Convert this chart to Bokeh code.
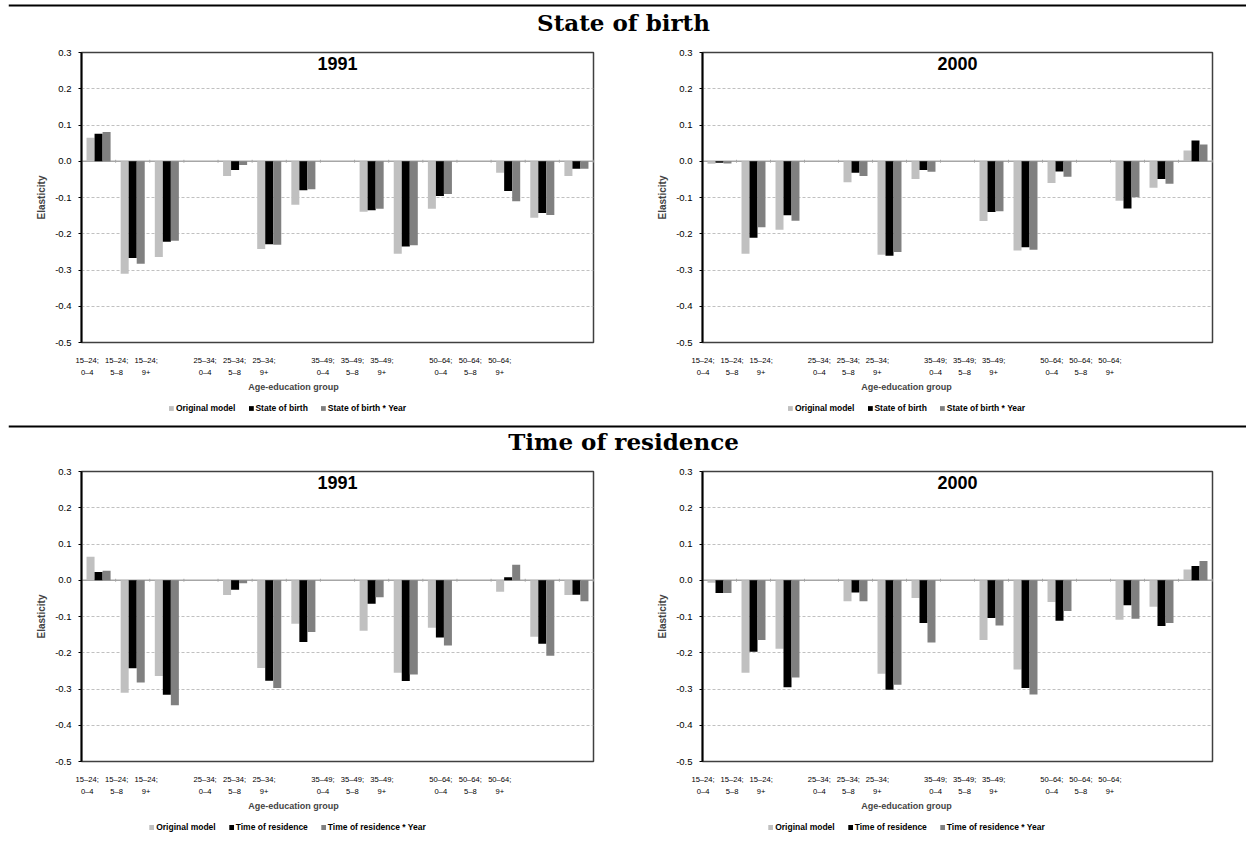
from bokeh.plotting import figure
from bokeh.models import (ColumnDataSource, Range1d, LinearAxis, FixedTicker, Legend,
                          LegendItem, Span, Label, PrintfTickFormatter)
from bokeh.layouts import column, row
from bokeh.transform import dodge
from bokeh.embed import file_html
from bokeh.resources import INLINE

# ---------------- data ----------------
categories = ["15\u201324;\n0\u20134", "15\u201324;\n5\u20138", "15\u201324;\n9+",
              "25\u201334;\n0\u20134", "25\u201334;\n5\u20138", "25\u201334;\n9+",
              "35\u201349;\n0\u20134", "35\u201349;\n5\u20138", "35\u201349;\n9+",
              "50\u201364;\n0\u20134", "50\u201364;\n5\u20138", "50\u201364;\n9+"]

y_ticks = [-0.5, -0.4, -0.3, -0.2, -0.1, 0.0, 0.1, 0.2, 0.3]

section_titles = ["State of birth", "Time of residence"]
panel_titles = ["1991", "2000"]
x_title = "Age-education group"
y_title = "Elasticity"

series_sob = ["Original model", "State of birth", "State of birth * Year"]
series_tor = ["Original model", "Time of residence", "Time of residence * Year"]

orig_1991 = [0.065, -0.310, -0.264, -0.041, -0.242, -0.120, -0.139, -0.255, -0.131, -0.032, -0.156, -0.041]
orig_2000 = [-0.007, -0.255, -0.189, -0.058, -0.258, -0.049, -0.165, -0.246, -0.060, -0.109, -0.073, 0.030]

sob_1991 = [0.076, -0.267, -0.222, -0.024, -0.229, -0.080, -0.135, -0.235, -0.096, -0.082, -0.143, -0.021]
sob_year_1991 = [0.081, -0.283, -0.219, -0.010, -0.230, -0.077, -0.131, -0.232, -0.090, -0.110, -0.148, -0.021]
sob_2000 = [-0.004, -0.211, -0.149, -0.032, -0.261, -0.024, -0.140, -0.237, -0.028, -0.130, -0.049, 0.057]
sob_year_2000 = [-0.006, -0.182, -0.164, -0.041, -0.250, -0.029, -0.138, -0.244, -0.043, -0.099, -0.062, 0.046]

tor_1991 = [0.023, -0.243, -0.316, -0.026, -0.277, -0.170, -0.065, -0.278, -0.158, 0.008, -0.175, -0.040]
tor_year_1991 = [0.026, -0.282, -0.345, -0.008, -0.297, -0.143, -0.047, -0.260, -0.180, 0.043, -0.208, -0.058]
tor_2000 = [-0.035, -0.197, -0.295, -0.034, -0.302, -0.118, -0.104, -0.297, -0.112, -0.069, -0.126, 0.039]
tor_year_2000 = [-0.035, -0.165, -0.268, -0.058, -0.288, -0.172, -0.125, -0.315, -0.085, -0.106, -0.118, 0.053]

# ---------------- style ----------------
FONT = "Liberation Sans"
COLORS = ["#C0C0C0", "#000000", "#808080"]
BAR_W = 0.235
OFFSETS = [-BAR_W, 0.0, BAR_W]
# each age group takes 3 slots followed by an empty slot
SLOTS = [4 * (k // 3) + k % 3 for k in range(len(categories))]
N_SLOTS = 15


def no_align(f):
    try:
        f.frame_align = False
    except AttributeError:
        pass
    return f


def add_bars(p, vals, visible=True):
    src = ColumnDataSource(dict(x=SLOTS, a=vals[0], b=vals[1], c=vals[2]))
    rs = []
    for off, col, colr in zip(OFFSETS, ["a", "b", "c"], COLORS):
        r = p.vbar(x=dodge("x", off), top=col, bottom=0, width=BAR_W, source=src,
                   fill_color=colr, line_color=None)
        r.visible = visible
        rs.append(r)
    return rs


def panel(title, vals, width, height, left, right, top, bottom):
    p = figure(width=width, height=height,
               x_range=Range1d(-0.5, N_SLOTS - 0.5), y_range=Range1d(y_ticks[0], y_ticks[-1]),
               output_backend="svg", toolbar_location=None,
               x_axis_location=None, y_axis_location="left",
               min_border_left=left, min_border_right=right,
               min_border_top=top, min_border_bottom=bottom)
    no_align(p)
    p.background_fill_color = "white"
    p.border_fill_color = "white"
    p.outline_line_color = "#404040"
    p.outline_line_width = 1.5

    ya = p.yaxis[0]
    ya.ticker = FixedTicker(ticks=y_ticks)
    ya.formatter = PrintfTickFormatter(format="%.1f")
    ya.axis_line_color = "black"
    ya.axis_line_width = 2
    ya.major_tick_out = 3
    ya.major_tick_in = 0
    ya.minor_tick_line_color = None
    ya.major_label_standoff = 7
    ya.major_label_text_font = FONT
    ya.major_label_text_font_size = "9.5px"
    ya.major_label_text_color = "black"
    ya.axis_label = y_title
    ya.axis_label_text_font = FONT
    ya.axis_label_text_font_style = "bold"
    ya.axis_label_text_font_size = "10px"
    ya.axis_label_standoff = 5

    p.xgrid.visible = False
    p.ygrid.ticker = FixedTicker(ticks=y_ticks)
    p.ygrid.grid_line_color = "#C0C0C0"
    p.ygrid.grid_line_dash = "3 2"
    p.ygrid.grid_line_width = 1

    # zero line and category tick marks
    p.add_layout(Span(location=0, dimension="width", line_color="#A6A6A6",
                      line_width=1.5, level="underlay"))
    bounds = [k - 0.5 for k in range(N_SLOTS + 1)]
    p.segment(x0=bounds, x1=bounds, y0=[-0.004] * len(bounds), y1=[0.004] * len(bounds),
              line_color="#A6A6A6", line_width=1)

    add_bars(p, vals)

    p.add_layout(Label(x=(N_SLOTS - 1) / 2, y=y_ticks[-1], text=title, text_align="center",
                       text_baseline="top", y_offset=-4, text_font=FONT,
                       text_font_style="bold", text_font_size="18px", text_color="black"))
    return p


def label_axis(lines, standoff, title=None):
    xa = LinearAxis()
    xa.ticker = FixedTicker(ticks=SLOTS)
    xa.major_label_overrides = {s: t for s, t in zip(SLOTS, lines)}
    xa.major_tick_out = 0
    xa.major_tick_in = 0
    xa.minor_tick_line_color = None
    xa.axis_line_color = None
    xa.major_label_standoff = standoff
    xa.major_label_text_font = FONT
    xa.major_label_text_font_size = "7.6px"
    xa.major_label_text_color = "black"
    if title:
        xa.axis_label = title
        xa.axis_label_text_font = FONT
        xa.axis_label_text_font_style = "bold"
        xa.axis_label_text_font_size = "9px"
        xa.axis_label_standoff = 2
    return xa


def labels_strip(width, height, left, right):
    """Two-line category labels and axis title under a panel."""
    f = figure(width=width, height=height,
               x_range=Range1d(-0.5, N_SLOTS - 0.5), y_range=Range1d(0, 1),
               output_backend="svg", toolbar_location=None,
               x_axis_location=None, y_axis_location=None,
               min_border_left=left, min_border_right=right,
               min_border_top=0, min_border_bottom=height - 1)
    no_align(f)
    f.outline_line_color = None
    f.grid.visible = False
    first = [c.split("\n")[0] for c in categories]
    second = [c.split("\n")[1] for c in categories]
    f.add_layout(label_axis(first, 4), "below")
    f.add_layout(label_axis(second, 0, x_title), "below")
    return f


def legend_strip(names, vals, width, height, left, right):
    f = figure(width=width, height=height,
               x_range=Range1d(-0.5, N_SLOTS - 0.5), y_range=Range1d(0, 1),
               output_backend="svg", toolbar_location=None,
               x_axis_location=None, y_axis_location=None,
               min_border_left=left, min_border_right=right,
               min_border_top=0, min_border_bottom=0)
    no_align(f)
    f.outline_line_color = None
    f.grid.visible = False
    # the same series, hidden here, only feed the legend swatches
    rs = add_bars(f, vals, visible=False)
    leg = Legend(items=[LegendItem(label=n, renderers=[r]) for n, r in zip(names, rs)],
                 orientation="horizontal", location="center")
    leg.label_text_font = FONT
    leg.label_text_font_style = "bold"
    leg.label_text_font_size = "8.5px"
    leg.label_text_color = "black"
    leg.inactive_fill_alpha = 0
    leg.glyph_width = 6
    leg.glyph_height = 6
    leg.label_height = 9
    leg.label_standoff = 2
    leg.spacing = 12
    leg.padding = 4
    leg.margin = 0
    leg.border_line_color = None
    leg.background_fill_alpha = 0
    f.add_layout(leg, "center")
    return f


def header(text, w, h, line_from_top, text_top):
    f = figure(width=w, height=h, x_range=Range1d(0, w - 8), y_range=Range1d(0, h),
               output_backend="svg", toolbar_location=None,
               x_axis_location=None, y_axis_location=None,
               min_border=0, min_border_left=8)
    no_align(f)
    f.outline_line_color = None
    f.grid.visible = False
    f.add_layout(Span(location=h - line_from_top, dimension="width",
                      line_color="black", line_width=2))
    f.add_layout(Label(x=w / 2 - 8, y=h - text_top, text=text, text_align="center",
                       text_baseline="top", text_font="DejaVu Serif",
                       text_font_style="bold", text_font_size="23px", text_color="black"))
    return f


W = 1246
WL, WR = 620, 626
LB = (72, 106)   # label strip borders, left column
RB = (68, 122)   # label strip borders, right column
LG = (66, 112)   # legend strip borders, left column

v1 = [orig_1991, sob_1991, sob_year_1991]
v2 = [orig_2000, sob_2000, sob_year_2000]
v3 = [orig_1991, tor_1991, tor_year_1991]
v4 = [orig_2000, tor_2000, tor_year_2000]

h1 = header(section_titles[0], W, 38, 5, 8)
p1 = panel(panel_titles[0], v1, WL, 312, 81, 27, 14, 8)
p2 = panel(panel_titles[1], v2, WR, 312, 82, 34, 14, 8)
a1 = labels_strip(WL, 46, *LB)
a2 = labels_strip(WR, 46, *RB)
g1 = legend_strip(series_sob, v1, WL, 24, *LG)
g2 = legend_strip(series_sob, v2, WR, 24, *RB)

h2 = header(section_titles[1], W, 38, 6, 7)
p3 = panel(panel_titles[0], v3, WL, 311, 81, 27, 13, 8)
p4 = panel(panel_titles[1], v4, WR, 311, 82, 34, 13, 8)
a3 = labels_strip(WL, 46, *LB)
a4 = labels_strip(WR, 46, *RB)
g3 = legend_strip(series_tor, v3, WL, 24, *LG)
g4 = legend_strip(series_tor, v4, WR, 24, *RB)

layout = column(h1, row(column(p1, a1, g1), column(p2, a2, g2)),
                h2, row(column(p3, a3, g3), column(p4, a4, g4)))

open("out.html", "w").write(file_html(layout, INLINE))
